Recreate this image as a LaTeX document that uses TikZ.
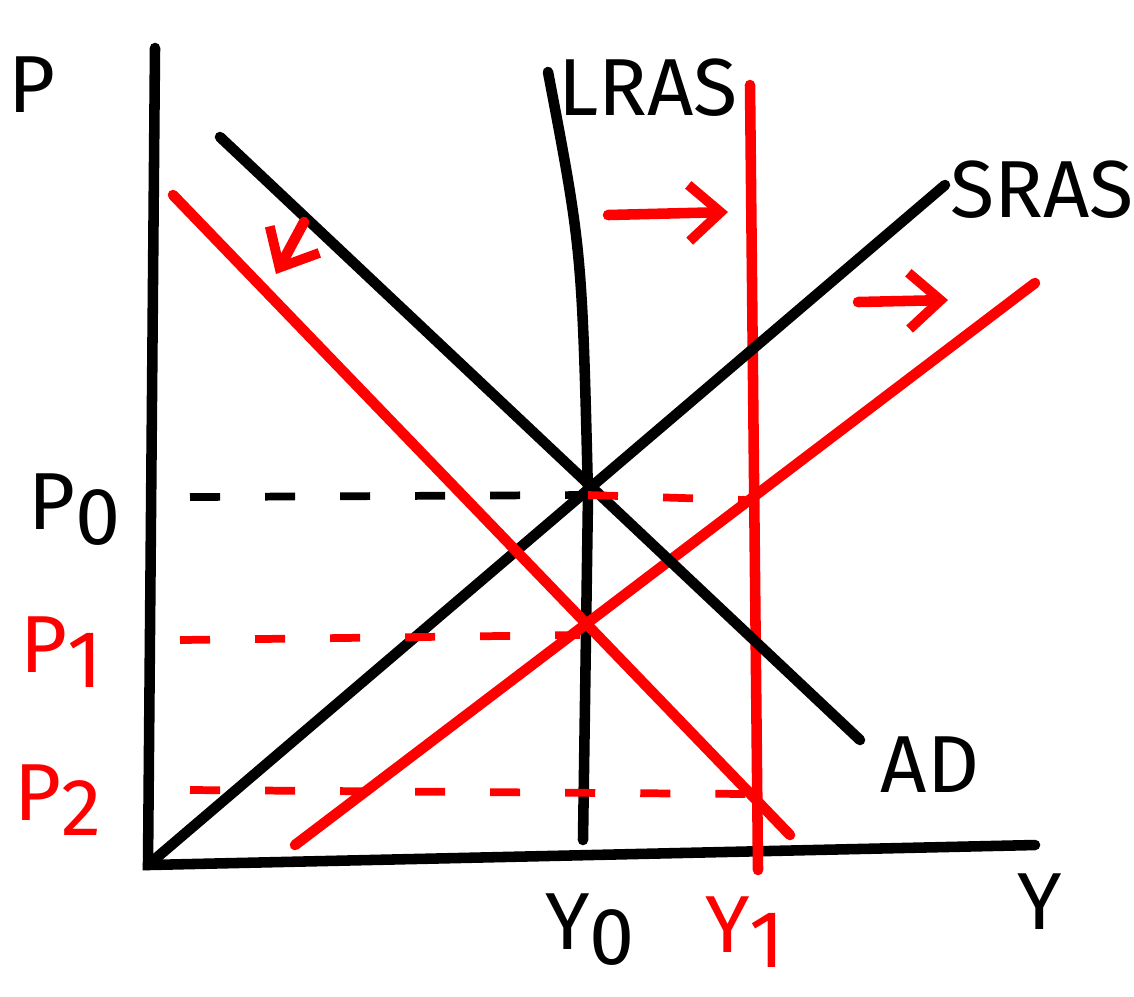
\documentclass[tikz,border=0pt]{standalone}
\usepackage{fontspec}
\setmainfont{Fira Sans}
\usetikzlibrary{arrows.meta}
\newcommand{\lowidx}[1]{\raisebox{-0.35ex}{#1}}
\tikzset{curve/.style={line width=3pt, line cap=round}}
\tikzset{redcurve/.style={curve, draw=red}}
\tikzset{guide/.style={line width=2.2pt, dash pattern=on 0.3cm off 0.45cm}}
\tikzset{shiftarrow/.style={redcurve, -{Straight Barb[length=9pt, width=16pt, line width=2.8pt]}}}
\tikzset{lbl/.style={font=\fontsize{23}{25}\selectfont, inner sep=0pt}}

\begin{document}
\begin{tikzpicture}[x=0.01cm, y=-0.01cm]
\useasboundingbox (0,0) rectangle (1134,996);

% axes
\coordinate (O) at (148,865);
\coordinate (ptop) at (155,48);
\coordinate (yend) at (1035,845);
\draw[curve] (ptop) -- (O) -- (yend);
\node[lbl] (P) at (32,85) {P};
\node[lbl] (Y) at (1040,902) {Y};

% long run
\coordinate (lrasT) at (548,72);
\coordinate (E0) at (588,495);
\coordinate (lrasB) at (583,840);
\draw[curve] (lrasT) .. controls (582,250) .. (E0) -- (lrasB);
\node[lbl] (lras) at (648,88) {LRAS};
\coordinate (lras1T) at (750,85);
\coordinate (lras1B) at (758,870);
\draw[redcurve] (lras1T) -- (lras1B);

% short run supply
\coordinate (srasT) at (945,185);
\draw[curve] (O) -- (srasT);
\node[lbl] (sras) at (1042,190) {SRAS};
\coordinate (sras1B) at (295,845);
\coordinate (sras1T) at (1035,283);
\draw[redcurve] (sras1B) -- (sras1T);

% demand
\coordinate (adT) at (220,137);
\coordinate (adB) at (860,740);
\draw[curve] (adT) -- (adB);
\node[lbl] (ad) at (930,765) {AD};
\coordinate (ad1T) at (173,195);
\coordinate (ad1B) at (790,835);
\draw[redcurve] (ad1T) -- (ad1B);

% shifts
\coordinate (s1a) at (304,222); \coordinate (s1b) at (276,274);
\draw[shiftarrow] (s1a) -- (s1b);
\coordinate (s2a) at (608,215); \coordinate (s2b) at (728,212);
\draw[shiftarrow] (s2a) -- (s2b);
\coordinate (s3a) at (858,302); \coordinate (s3b) at (948,300);
\draw[shiftarrow] (s3a) -- (s3b);

% price levels
\coordinate (p0s) at (190,497);
\coordinate (p0e) at (745,500);
\draw[guide] (p0s) -- (E0);
\draw[guide, red] (E0) -- (p0e);
\coordinate (p1s) at (180,640);
\coordinate (E1) at (580,635);
\draw[guide, red] (p1s) -- (E1);
\coordinate (p2s) at (190,790);
\coordinate (E2) at (750,794);
\draw[guide, red] (p2s) -- (E2);

\node[lbl] (p0) at (75,510) {P\lowidx{0}};
\node[lbl, red] (p1) at (62,652) {P\lowidx{1}};
\node[lbl, red] (p2) at (58,800) {P\lowidx{2}};
\node[lbl] (y0) at (590,930) {Y\lowidx{0}};
\node[lbl, red] (y1) at (745,932) {Y\lowidx{1}};

\end{tikzpicture}
\end{document}
